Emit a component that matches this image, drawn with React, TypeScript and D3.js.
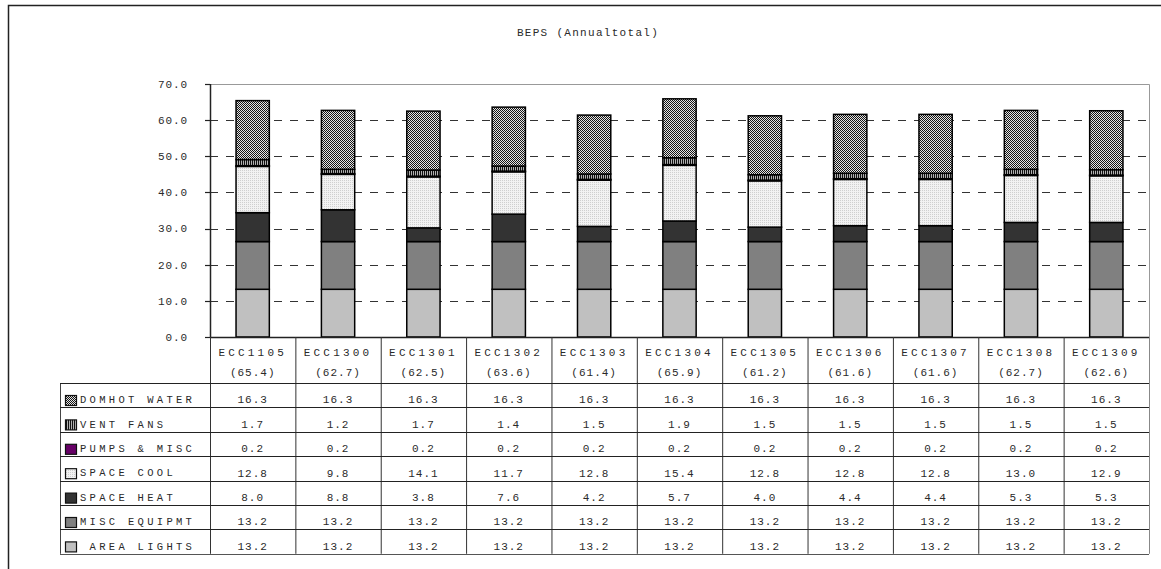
import React from "react";
import * as d3 from "d3";

const categories = ["ECC1105", "ECC1300", "ECC1301", "ECC1302", "ECC1303", "ECC1304", "ECC1305", "ECC1306", "ECC1307", "ECC1308", "ECC1309"];
const totals = [65.4, 62.7, 62.5, 63.6, 61.4, 65.9, 61.2, 61.6, 61.6, 62.7, 62.6];

const areaLights = [13.2, 13.2, 13.2, 13.2, 13.2, 13.2, 13.2, 13.2, 13.2, 13.2, 13.2];
const miscEquip = [13.2, 13.2, 13.2, 13.2, 13.2, 13.2, 13.2, 13.2, 13.2, 13.2, 13.2];
const spaceHeat = [8.0, 8.8, 3.8, 7.6, 4.2, 5.7, 4.0, 4.4, 4.4, 5.3, 5.3];
const spaceCool = [12.8, 9.8, 14.1, 11.7, 12.8, 15.4, 12.8, 12.8, 12.8, 13.0, 12.9];
const pumpsMisc = [0.2, 0.2, 0.2, 0.2, 0.2, 0.2, 0.2, 0.2, 0.2, 0.2, 0.2];
const ventFans = [1.7, 1.2, 1.7, 1.4, 1.5, 1.9, 1.5, 1.5, 1.5, 1.5, 1.5];
const domHotWater = [16.3, 16.3, 16.3, 16.3, 16.3, 16.3, 16.3, 16.3, 16.3, 16.3, 16.3];

const yTicks = [0, 10, 20, 30, 40, 50, 60, 70];

// stacking order, bottom to top
const series = [
  { key: "lights", label: " AREA LIGHTS", values: areaLights, fill: "#c0c0c0" },
  { key: "equip", label: "MISC EQUIPMT", values: miscEquip, fill: "#808080" },
  { key: "heat", label: "SPACE HEAT", values: spaceHeat, fill: "#333333" },
  { key: "cool", label: "SPACE COOL", values: spaceCool, fill: "url(#pCool)" },
  { key: "pumps", label: "PUMPS & MISC", values: pumpsMisc, fill: "#660066" },
  { key: "fans", label: "VENT FANS", values: ventFans, fill: "url(#pFans)" },
  { key: "dhw", label: "DOMHOT WATER", values: domHotWater, fill: "url(#pDhw)" },
];

const W = 1161;
const H = 569;
const plotL = 210;
const plotR = 1149;
const plotT = 84;
const plotB = 337;
const headerB = 383;
const tableL = 60;
const rowH = 24.4;
const font = "'Liberation Mono', 'Courier New', monospace";
const ink = "#2a2a2a";

export default function App() {
  const x = d3.scaleBand<string>().domain(categories).range([plotL, plotR]).padding(0);
  const y = d3.scaleLinear().domain([0, 70]).range([plotB, plotT]);
  const bw = x.bandwidth();
  const barW = bw * 0.39;

  const tableRows = [...series].reverse();

  const stack = d3
    .stack<number>()
    .keys(series.map((_, i) => String(i)))
    .value((d, k) => series[+k].values[d]);
  const stacked = stack(categories.map((_, i) => i));

  const tableBottom = headerB + rowH * tableRows.length;

  return (
    <svg width={W} height={H} style={{ position: "absolute", left: 0, top: 0, background: "#fff" }} fontFamily={font}>
      <defs>
        <pattern id="pDhw" width="2" height="2" patternUnits="userSpaceOnUse">
          <rect width="2" height="2" fill="#e4e4e4" />
          <rect width="1" height="1" fill="#151515" />
          <rect x="1" y="1" width="1" height="1" fill="#151515" />
        </pattern>
        <pattern id="pFans" width="2" height="2" patternUnits="userSpaceOnUse">
          <rect width="2" height="2" fill="#b0b0b0" />
          <rect width="1" height="2" fill="#111" />
        </pattern>
        <pattern id="pCool" width="2" height="2" patternUnits="userSpaceOnUse">
          <rect width="2" height="2" fill="#f2f2f2" />
          <rect width="1" height="1" fill="#cfcfcf" />
        </pattern>
      </defs>

      {/* outer chart frame */}
      <rect x={8.5} y={5.5} width={1170} height={600} fill="none" stroke="#222" strokeWidth={1.5} />

      <text x={588} y={33} textAnchor="middle" dominantBaseline="middle" fontSize={11} letterSpacing={1.3} fill={ink}>
        BEPS (Annualtotal)
      </text>

      {/* plot area border */}
      <path d={`M${plotL},${plotT + 0.5}H${plotR + 0.5}V${plotB}`} fill="none" stroke="#999" strokeWidth={1} />

      {/* gridlines */}
      {yTicks.filter((t) => t > 0 && t < 70).map((t) => (
        <line key={t} x1={plotL} x2={plotR} y1={Math.round(y(t)) + 0.5} y2={Math.round(y(t)) + 0.5} stroke="#333" strokeWidth={1} strokeDasharray="8,8" />
      ))}

      {/* y axis */}
      <line x1={plotL + 0.5} x2={plotL + 0.5} y1={plotT} y2={plotB} stroke="#222" strokeWidth={1.5} />
      {yTicks.map((t) => (
        <g key={t}>
          <line x1={plotL - 5} x2={plotL} y1={Math.round(y(t)) + 0.5} y2={Math.round(y(t)) + 0.5} stroke="#222" strokeWidth={1.2} />
          <text x={188} y={y(t) + 1} textAnchor="end" dominantBaseline="middle" fontSize={11} letterSpacing={0.9} fill={ink}>
            {t.toFixed(1)}
          </text>
        </g>
      ))}

      {/* stacked bars */}
      {stacked.map((layer, li) => (
        <g key={li}>
          {layer.map((d, ci) => {
            const cx = (x(categories[ci]) as number) + bw / 2;
            return (
              <rect
                key={ci}
                x={cx - barW / 2}
                y={y(d[1])}
                width={barW}
                height={Math.max(0, y(d[0]) - y(d[1]))}
                fill={series[li].fill}
                stroke="#000"
                strokeWidth={1.5}
              />
            );
          })}
        </g>
      ))}

      {/* data table */}
      <line x1={plotL} x2={plotR} y1={plotB + 0.5} y2={plotB + 0.5} stroke="#222" strokeWidth={1.5} />
      {categories.map((c, i) => {
        const x0 = x(c) as number;
        return (
          <g key={c}>
            <line x1={x0 + 0.5} x2={x0 + 0.5} y1={plotB} y2={tableBottom} stroke="#333" strokeWidth={1} />
            <text x={x0 + bw / 2} y={353} textAnchor="middle" dominantBaseline="middle" fontSize={11} letterSpacing={3.2} fill={ink}>
              {c}
            </text>
            <text x={x0 + bw / 2} y={373} textAnchor="middle" dominantBaseline="middle" fontSize={11} letterSpacing={1.0} fill={ink}>
              {`(${totals[i].toFixed(1)})`}
            </text>
          </g>
        );
      })}
      <line x1={plotR + 0.5} x2={plotR + 0.5} y1={plotB} y2={tableBottom} stroke="#888" strokeWidth={1} />
      <line x1={tableL + 0.5} x2={tableL + 0.5} y1={headerB} y2={tableBottom} stroke="#444" strokeWidth={1} />

      {tableRows.map((s, r) => {
        const top = headerB + r * rowH;
        return (
          <g key={s.key}>
            <line x1={tableL} x2={plotR} y1={Math.round(top) + 0.5} y2={Math.round(top) + 0.5} stroke="#222" strokeWidth={1} />
            <rect x={65.5} y={top + 12.5} width={11} height={10} fill={s.fill} stroke="#111" strokeWidth={1.2} />
            <text x={80} y={top + 17.5} dominantBaseline="middle" fontSize={10.5} letterSpacing={3.3} fill={ink} style={{ whiteSpace: "pre" }}>
              {s.label}
            </text>
            {s.values.map((v, ci) => (
              <text key={ci} x={(x(categories[ci]) as number) + bw / 2} y={top + 17.5} textAnchor="middle" dominantBaseline="middle" fontSize={11} letterSpacing={1.0} fill={ink}>
                {v.toFixed(1)}
              </text>
            ))}
          </g>
        );
      })}
      <line x1={tableL} x2={plotR} y1={Math.round(tableBottom) + 0.5} y2={Math.round(tableBottom) + 0.5} stroke="#555" strokeWidth={1} />
    </svg>
  );
}
